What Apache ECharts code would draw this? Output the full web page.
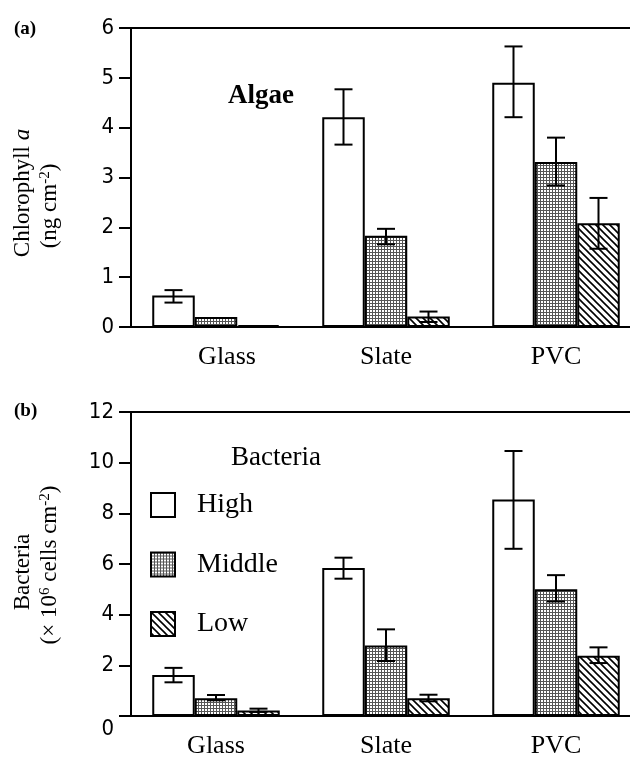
<!DOCTYPE html>
<html>
<head>
<meta charset="utf-8">
<script src="https://cdn.jsdelivr.net/npm/echarts@6/dist/echarts.min.js"></script>
<style>html,body{margin:0;padding:0;background:#fff;overflow:hidden;}#c{width:630px;height:760px;}</style>
</head>
<body>
<div id="c"></div>
<script>
// ---- data ----
const categories = ['Glass', 'Slate', 'PVC'];
const seriesNames = ['High', 'Middle', 'Low'];

const algaeHigh = [0.63, 4.21, 4.90];
const algaeMiddle = [0.20, 1.83, 3.31];
const algaeLow = [0.04, 0.21, 2.08];
const algaeHighErr = [[0.49, 0.74], [3.66, 4.77], [4.21, 5.63]];
const algaeMiddleErr = [[0.20, 0.20], [1.66, 1.97], [2.84, 3.80]];
const algaeLowErr = [[0.04, 0.04], [0.10, 0.31], [1.57, 2.59]];

const bactHigh = [1.62, 5.84, 8.55];
const bactMiddle = [0.70, 2.78, 5.00];
const bactLow = [0.22, 0.70, 2.38];
const bactHighErr = [[1.33, 1.90], [5.42, 6.25], [6.60, 10.46]];
const bactMiddleErr = [[0.62, 0.83], [2.17, 3.42], [4.52, 5.56]];
const bactLowErr = [[0.16, 0.29], [0.58, 0.84], [2.09, 2.71]];

const algaeTicks = [0, 1, 2, 3, 4, 5, 6];
const bactTicks = [0, 2, 4, 6, 8, 10, 12];

// ---- patterns ----
function dotPattern() {
  const c = document.createElement('canvas');
  c.width = 3; c.height = 3;
  const g = c.getContext('2d');
  g.fillStyle = '#fff'; g.fillRect(0, 0, 3, 3);
  g.fillStyle = '#555';
  g.fillRect(0, 0, 3, 1);
  g.fillRect(0, 0, 1, 3);
  return c;
}
function hatchPattern() {
  const s = 7;
  const c = document.createElement('canvas');
  c.width = s; c.height = s;
  const g = c.getContext('2d');
  g.fillStyle = '#fff'; g.fillRect(0, 0, s, s);
  g.strokeStyle = '#000'; g.lineWidth = 1.6;
  g.beginPath();
  g.moveTo(-1, -1); g.lineTo(s + 1, s + 1);
  g.moveTo(-1, s - 1); g.lineTo(1, s + 1);
  g.moveTo(s - 1, -1); g.lineTo(s + 1, 1);
  g.stroke();
  return c;
}
const fills = ['#ffffff', { image: dotPattern(), repeat: 'repeat' }, { image: hatchPattern(), repeat: 'repeat' }];

const serif = '"Liberation Serif", "Times New Roman", serif';
const tickFont = '"DejaVu Sans Condensed", "Liberation Sans Narrow", "DejaVu Sans", sans-serif';

const grids = [
  { left: 131, width: 510, top: 28, height: 299, outerBoundsMode: 'none', containLabel: false, show: true, borderColor: '#000', borderWidth: 2, backgroundColor: 'transparent' },
  { left: 131, width: 510, top: 412, height: 304, outerBoundsMode: 'none', containLabel: false, show: true, borderColor: '#000', borderWidth: 2, backgroundColor: 'transparent' }
];

function xAx(gi, shiftFirst) {
  return {
    type: 'category', gridIndex: gi, data: categories,
    axisLine: { lineStyle: { color: '#000', width: 2 } },
    axisTick: { show: false },
    axisLabel: {
      color: '#000', fontFamily: serif, fontSize: 26, margin: 17,
      formatter: function (v, i) { return (shiftFirst && i === 0) ? '{s|' + v + '}' : v; },
      rich: { s: { fontFamily: serif, fontSize: 26, color: '#000', padding: [0, 0, 0, 22] } }
    }
  };
}
function yAx(gi, max, interval, dropZero) {
  return {
    type: 'value', gridIndex: gi, min: 0, max: max, interval: interval,
    axisLine: { show: true, lineStyle: { color: '#000', width: 2 } },
    axisTick: { show: true, length: 12, lineStyle: { color: '#000', width: 2 } },
    splitLine: { show: false },
    axisLabel: {
      color: '#000', fontFamily: tickFont, fontSize: 22, margin: 17,
      formatter: function (v) { return (dropZero && v === 0) ? '{z|0}' : String(v); },
      rich: { z: { fontFamily: tickFont, fontSize: 22, color: '#000', padding: [26, 0, 0, 0] } }
    }
  };
}

function barSeries(name, data, gi, idx) {
  return {
    name: name, type: 'bar', xAxisIndex: gi, yAxisIndex: gi, data: data,
    barGap: '0%', barCategoryGap: '25%',
    itemStyle: { color: fills[idx], borderColor: '#000', borderWidth: 2 },
    emphasis: { disabled: true }, animation: false
  };
}
function errSeries(errs, gi, idx) {
  return {
    type: 'custom', xAxisIndex: gi, yAxisIndex: gi, animation: false, z: 5,
    data: errs.map((e, i) => [i, e[0], e[1]]),
    renderItem: function (params, api) {
      const ci = api.value(0);
      const band = api.size([1, 0])[0];
      const bw = band * 0.75 / 3;
      const x = api.coord([ci, 0])[0] + (idx - 1) * bw;
      const y1 = api.coord([ci, api.value(1)])[1];
      const y2 = api.coord([ci, api.value(2)])[1];
      const cap = 9;
      const st = { stroke: '#000', lineWidth: 2 };
      if (Math.abs(y1 - y2) < 1) return { type: 'group', children: [] };
      return {
        type: 'group', children: [
          { type: 'line', shape: { x1: x, y1: y1, x2: x, y2: y2 }, style: st },
          { type: 'line', shape: { x1: x - cap, y1: y1, x2: x + cap, y2: y1 }, style: st },
          { type: 'line', shape: { x1: x - cap, y1: y2, x2: x + cap, y2: y2 }, style: st }
        ]
      };
    }
  };
}

const chart = echarts.init(document.getElementById('c'), null, { renderer: 'canvas' });
chart.setOption({
  backgroundColor: '#fff',
  animation: false,
  grid: grids,
  xAxis: [xAx(0, true), xAx(1, false)],
  yAxis: [yAx(0, algaeTicks[algaeTicks.length - 1], 1, false), yAx(1, bactTicks[bactTicks.length - 1], 2, true)],
  legend: {
    data: seriesNames, orient: 'vertical', left: 150, top: 491, padding: 0,
    itemWidth: 24, itemHeight: 24, itemGap: 31.5, icon: 'rect',
    textStyle: { fontFamily: serif, fontSize: 28, lineHeight: 24, color: '#000', padding: [0, 0, 0, 17] },
    selectedMode: false
  },
  series: [
    barSeries('High', algaeHigh, 0, 0),
    barSeries('Middle', algaeMiddle, 0, 1),
    barSeries('Low', algaeLow, 0, 2),
    barSeries('High', bactHigh, 1, 0),
    barSeries('Middle', bactMiddle, 1, 1),
    barSeries('Low', bactLow, 1, 2),
    errSeries(algaeHighErr, 0, 0),
    errSeries(algaeMiddleErr, 0, 1),
    errSeries(algaeLowErr, 0, 2),
    errSeries(bactHighErr, 1, 0),
    errSeries(bactMiddleErr, 1, 1),
    errSeries(bactLowErr, 1, 2)
  ],
  graphic: [
    { type: 'text', left: 14, top: 20, style: { text: '(a)', font: 'bold 19px ' + serif, fill: '#000' } },
    { type: 'text', left: 14, top: 402, style: { text: '(b)', font: 'bold 19px ' + serif, fill: '#000' } },
    { type: 'text', left: 228, top: 83, style: { text: 'Algae', font: 'bold 27px ' + serif, fill: '#000' } },
    { type: 'text', left: 231, top: 444, style: { text: 'Bacteria', font: '27px ' + serif, fill: '#000' } },
    {
      type: 'text', x: 23, y: 193, rotation: Math.PI / 2,
      style: {
        text: '{n|Chlorophyll }{i|a}', align: 'center', verticalAlign: 'middle',
        rich: { n: { font: '23px ' + serif, fill: '#000' }, i: { font: 'italic 23px ' + serif, fill: '#000' } }
      }
    },
    {
      type: 'text', x: 50, y: 206, rotation: Math.PI / 2,
      style: {
        text: '{n|(ng cm}{s|-2}{n|)}', align: 'center', verticalAlign: 'middle',
        rich: { n: { font: '23px ' + serif, fill: '#000' }, s: { font: '15px ' + serif, fill: '#000', padding: [0, 0, 10, 0] } }
      }
    },
    {
      type: 'text', x: 23, y: 572, rotation: Math.PI / 2,
      style: {
        text: 'Bacteria', align: 'center', verticalAlign: 'middle',
        font: '23px ' + serif, fill: '#000'
      }
    },
    {
      type: 'text', x: 50, y: 565, rotation: Math.PI / 2,
      style: {
        text: '{n|(× 10}{s|6}{n| cells cm}{s|-2}{n|)}', align: 'center', verticalAlign: 'middle',
        rich: { n: { font: '23px ' + serif, fill: '#000' }, s: { font: '15px ' + serif, fill: '#000', padding: [0, 0, 10, 0] } }
      }
    }
  ]
});
</script>
</body>
</html>
